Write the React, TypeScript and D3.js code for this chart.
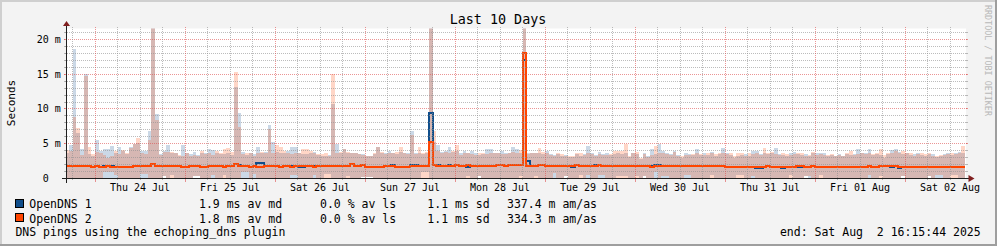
import React from 'react';
import * as d3 from 'd3';

// ---------- data ----------
const START = Date.UTC(2025, 6, 23, 16, 15, 44);
const END = Date.UTC(2025, 7, 2, 16, 15, 44);
const FIRST_BIN = Date.UTC(2025, 6, 23, 16, 0, 0);
const HOUR = 3600e3;

const seriesNames = ['OpenDNS 1', 'OpenDNS 2'];
const avMedian = [1.9, 1.8];
const avLoss = [0.0, 0.0];
const avSd = [1.1, 1.1];
const amas = [337.4, 334.3];

const dayLabels = ['Thu 24 Jul', 'Fri 25 Jul', 'Sat 26 Jul', 'Sun 27 Jul', 'Mon 28 Jul', 'Tue 29 Jul', 'Wed 30 Jul', 'Thu 31 Jul', 'Fri 01 Aug', 'Sat 02 Aug'];
const yTickValues = [0, 5, 10, 15, 20];
const yTickLabels = ['0', '5 m', '10 m', '15 m', '20 m'];

// hourly smoke maxima (ms)
const hiB = [
  3.7, 4.8, 18.6, 6.5, 4.3, 15.0, 3.5, 3.3,
  5.5, 4.0, 4.3, 4.2, 4.7, 3.6, 4.6, 4.0, 3.5, 4.5, 5.0, 5.1, 4.0, 3.9, 6.8, 22.5, 9.3, 3.5, 4.0, 4.8, 3.7, 3.7, 3.3, 4.8,
  3.6, 3.5, 3.8, 3.4, 3.6, 3.7, 4.2, 4.1, 3.6, 3.5, 3.5, 3.6, 3.4, 13.1, 9.4, 3.8, 3.4, 3.7, 3.5, 4.5, 3.6, 3.8, 7.7, 5.3,
  3.8, 3.6, 3.7, 3.9, 4.5, 4.6, 3.6, 3.5, 3.5, 3.6, 3.8, 3.4, 3.3, 3.3, 3.4, 10.7, 5.0, 3.7, 4.3, 3.7, 3.6, 3.6, 3.5, 3.5,
  3.3, 3.2, 3.5, 4.6, 3.7, 3.7, 3.9, 3.6, 3.5, 3.8, 3.6, 3.7, 6.9, 3.6, 3.7, 3.5, 3.6, 22.5, 5.3, 4.8, 3.8, 3.9, 4.55, 3.8,
  3.9, 3.7, 4.0, 3.6, 3.9, 3.6, 3.4, 3.5, 4.3, 4.3, 3.7, 3.6, 3.9, 3.6, 3.6, 4.55, 4.2, 3.6, 22.5, 3.7, 3.6, 3.6, 3.7, 3.5,
  3.9, 3.5, 3.4, 3.5, 3.3, 3.4, 3.1, 3.1, 3.5, 3.3, 3.5, 4.65, 3.6, 3.4, 3.8, 3.5, 3.7, 3.4, 3.5, 3.6, 3.5, 3.6, 3.1, 3.7,
  3.5, 2.8, 3.6, 3.2, 4.2, 3.5, 5.0, 3.9, 3.7, 3.5, 4.0, 3.4, 3.0, 3.7, 3.5, 3.4, 4.3, 3.4, 3.6, 3.4, 3.8, 3.3, 3.5, 4.45,
  3.7, 3.4, 3.0, 3.3, 3.4, 3.5, 3.3, 4.0, 4.0, 3.5, 3.6, 3.5, 3.7, 4.4, 3.5, 3.4, 3.3, 3.6, 3.8, 3.5, 3.4, 3.5, 3.3, 3.6,
  3.6, 3.6, 3.6, 3.3, 3.4, 3.2, 3.5, 3.2, 3.5, 3.4, 3.5, 4.3, 3.7, 3.7, 4.2, 3.4, 3.5, 3.4, 3.0, 3.5, 4.1, 4.2, 3.8, 3.5,
  3.6, 3.4, 3.5, 3.6, 3.4, 3.3, 3.5, 3.5, 3.1, 3.3, 3.5, 3.7, 3.4, 3.6, 3.8, 3.6,
];
const hiO = [
  4.1, 3.9, 8.9, 7.3, 3.4, 14.8, 4.5, 3.5,
  3.8, 3.7, 3.4, 3.0, 3.2, 3.9, 3.5, 4.1, 3.6, 4.4, 4.9, 5.85, 3.6, 3.5, 5.5, 22.5, 8.4, 3.4, 3.8, 3.8, 3.8, 3.6, 3.4, 3.2,
  3.7, 3.3, 3.4, 3.3, 4.0, 3.5, 3.6, 3.4, 3.9, 3.7, 4.2, 4.4, 3.8, 15.3, 7.4, 3.5, 3.6, 3.6, 3.3, 3.6, 3.8, 3.7, 7.1, 3.6,
  4.8, 4.6, 4.0, 3.6, 3.5, 3.6, 3.7, 4.2, 4.3, 4.0, 3.6, 3.5, 3.5, 3.6, 3.2, 15.0, 3.6, 3.8, 4.2, 3.8, 3.7, 3.6, 3.5, 3.4,
  3.2, 3.3, 3.6, 4.5, 3.8, 3.5, 3.6, 3.7, 3.8, 4.6, 3.6, 3.5, 6.3, 3.5, 4.55, 3.6, 3.8, 22.5, 6.9, 3.9, 3.7, 3.8, 3.7, 4.0,
  4.8, 3.4, 3.6, 3.6, 3.5, 3.4, 3.6, 3.6, 3.5, 3.6, 3.6, 3.7, 3.5, 3.5, 3.7, 3.8, 3.7, 4.1, 22.5, 3.5, 3.7, 3.6, 4.4, 3.8,
  3.6, 3.4, 3.3, 3.6, 3.5, 3.3, 3.2, 3.3, 3.6, 3.7, 3.4, 3.6, 3.5, 3.3, 3.5, 3.4, 3.4, 3.5, 3.9, 4.0, 4.0, 5.0, 3.2, 3.6,
  3.8, 2.9, 3.5, 3.1, 3.4, 4.65, 3.6, 3.7, 3.5, 3.4, 3.8, 3.3, 3.2, 3.4, 3.4, 3.5, 3.6, 3.5, 3.4, 3.6, 3.7, 3.5, 3.6, 3.6,
  3.5, 3.7, 3.2, 3.6, 3.7, 3.3, 3.7, 3.5, 3.6, 3.4, 4.45, 3.6, 3.8, 3.5, 3.4, 3.6, 3.5, 3.4, 3.5, 3.6, 3.7, 3.3, 3.4, 3.8,
  3.4, 3.5, 3.4, 3.35, 3.5, 3.3, 3.4, 3.2, 3.6, 3.9, 3.4, 3.5, 3.6, 3.5, 3.6, 3.5, 3.6, 4.3, 3.4, 3.6, 3.6, 3.9, 3.7, 4.0,
  3.7, 3.6, 3.3, 3.5, 3.6, 3.5, 3.7, 3.3, 3.2, 3.4, 3.4, 3.5, 3.6, 3.5, 3.7, 4.65,
];
// hourly smoke minima (ms)
const loB = [
  0.1, 0.1, 0.1, 0.1, 0.1, 0.1, 0.1, 0.1,
  0.1, 0.1, 0.1, 0.1, 0.1, 0.1, 0.1, 0.1, 0.1, 0.1, 0.1, 0.1, 0.1, 0.1, 0.1, 0.1, 0.1, 0.1, 0.3, 0.1, 0.5, 0.1, 0.1, 0.1,
  0.1, 0.1, 0.3, 0.3, 0.1, 0.1, 0.1, 0.1, 0.1, 0.1, 0.5, 0.1, 0.1, 0.1, 0.1, 0.1, 0.1, 0.1, 0.1, 0.1, 0.1, 0.1, 0.1, 0.1,
  0.1, 0.1, 0.1, 0.1, 0.1, 0.1, 0.1, 0.1, 0.1, 0.1, 0.1, 0.1, 0.1, 0.7, 0.7, 0.1, 0.1, 0.1, 0.1, 0.4, 0.1, 0.1, 0.1, 0.25,
  0.25, 0.25, 0.1, 0.1, 0.1, 0.1, 0.1, 0.1, 0.1, 0.1, 0.1, 0.1, 0.1, 0.1, 0.1, 1.0, 1.0, 0.1, 0.1, 0.1, 0.1, 0.1, 0.1, 0.1,
  0.1, 0.1, 0.1, 0.4, 0.1, 0.1, 0.3, 0.1, 0.1, 0.1, 0.1, 0.1, 0.1, 0.1, 0.1, 0.1, 0.1, 0.4, 0.1, 0.1, 0.1, 0.4, 0.1, 0.1,
  0.1, 0.1, 0.1, 0.1, 0.1, 0.3, 0.1, 0.1, 0.1, 0.5, 0.1, 0.1, 0.1, 0.1, 0.1, 0.1, 0.1, 0.1, 0.1, 0.3, 0.3, 0.3, 0.1, 0.1,
  0.4, 0.1, 0.3, 0.1, 0.1, 0.1, 0.1, 0.1, 0.1, 0.1, 0.1, 0.1, 0.1, 0.1, 0.1, 0.1, 0.1, 0.1, 0.1, 0.1, 0.5, 0.1, 0.1, 0.1,
  0.1, 0.1, 0.1, 0.5, 0.5, 0.1, 0.1, 0.1, 0.1, 0.1, 0.1, 0.1, 0.1, 0.1, 0.1, 0.1, 0.1, 0.5, 0.1, 0.1, 0.1, 0.3, 0.1, 0.1,
  0.1, 0.45, 0.1, 0.1, 0.1, 0.1, 0.1, 0.1, 0.1, 0.1, 0.1, 0.1, 0.1, 0.1, 0.1, 0.1, 0.1, 0.4, 0.1, 0.1, 0.1, 0.1, 0.1, 0.3,
  0.1, 0.1, 0.1, 0.1, 0.1, 0.1, 0.3, 0.1, 0.1, 0.1, 0.1, 0.1, 0.5, 0.5, 0.1, 0.1,
];
const loO = [
  0.1, 0.1, 0.1, 0.1, 0.1, 0.1, 0.1, 0.1,
  0.1, 0.1, 0.9, 0.9, 0.9, 0.45, 0.1, 0.1, 0.1, 0.1, 0.1, 0.1, 0.6, 0.6, 0.1, 0.1, 0.1, 0.1, 0.3, 0.1, 0.1, 0.1, 0.1, 0.1,
  0.1, 0.1, 0.3, 0.3, 0.1, 0.1, 0.1, 0.5, 0.1, 0.1, 0.1, 0.1, 0.1, 0.1, 0.1, 0.9, 0.9, 0.1, 0.6, 0.1, 0.1, 0.1, 0.1, 0.1,
  0.1, 0.1, 0.1, 0.1, 0.55, 0.55, 0.1, 0.1, 0.1, 0.1, 0.5, 0.1, 0.1, 0.1, 0.1, 0.1, 0.1, 0.1, 0.1, 0.1, 0.1, 0.1, 0.1, 0.25,
  0.25, 0.25, 0.1, 0.1, 0.1, 0.1, 0.1, 0.1, 0.1, 0.1, 0.1, 0.1, 0.1, 0.1, 0.1, 0.1, 0.1, 0.1, 0.1, 0.1, 0.1, 0.1, 0.1, 0.1,
  0.1, 0.1, 0.1, 0.1, 0.1, 0.1, 0.3, 0.1, 0.1, 0.1, 0.1, 0.1, 0.1, 0.1, 0.1, 0.1, 0.1, 0.1, 0.1, 0.1, 0.1, 0.1, 0.1, 0.1,
  0.1, 0.1, 0.8, 0.1, 0.1, 0.3, 0.1, 0.1, 0.1, 0.1, 0.1, 0.5, 0.1, 0.1, 0.5, 0.5, 0.1, 0.1, 0.1, 0.1, 0.1, 0.1, 0.1, 0.1,
  0.1, 0.1, 0.3, 0.1, 0.1, 1.0, 0.1, 0.3, 0.3, 0.1, 0.1, 0.1, 0.1, 0.45, 0.45, 0.1, 0.1, 0.1, 0.1, 0.1, 0.1, 0.1, 0.1, 0.1,
  0.1, 0.1, 0.1, 0.1, 0.1, 0.1, 0.1, 0.4, 0.1, 0.1, 0.1, 0.1, 0.1, 0.1, 0.1, 0.1, 0.1, 0.1, 0.1, 0.1, 0.1, 0.3, 0.4, 0.1,
  0.1, 0.1, 0.1, 0.1, 0.1, 0.1, 0.1, 0.1, 0.1, 0.1, 0.1, 0.1, 0.1, 0.1, 0.5, 0.1, 0.1, 0.1, 0.1, 0.1, 0.1, 0.1, 0.1, 0.3,
  0.1, 0.1, 0.1, 0.1, 0.1, 0.1, 0.3, 0.1, 0.55, 0.55, 0.1, 0.1, 0.1, 0.1, 0.1, 0.1,
];
// hourly medians (ms)
const medB = [
  1.75, 1.82, 1.82, 1.82, 1.82, 1.82, 1.82, 1.72,
  1.82, 1.72, 1.85, 1.82, 1.85, 1.72, 1.72, 1.72, 1.72, 1.72, 1.82, 1.82, 1.82, 1.82, 1.82, 2.15, 1.82, 1.82, 1.82, 1.82, 1.82, 1.82, 1.82, 1.72,
  1.72, 1.82, 1.82, 1.82, 1.72, 1.72, 1.82, 1.82, 1.82, 1.82, 1.72, 1.82, 1.82, 2.15, 1.9, 1.82, 1.82, 1.72, 1.82, 2.25, 2.25, 1.82, 1.82, 1.82,
  1.82, 1.62, 1.82, 1.82, 1.85, 1.82, 1.65, 1.65, 1.82, 1.82, 1.85, 1.82, 1.82, 1.82, 1.82, 1.82, 1.82, 1.82, 1.82, 1.82, 2.1, 1.82, 1.82, 1.95,
  1.72, 1.72, 1.72, 1.72, 1.72, 1.82, 1.82, 1.9, 1.72, 1.72, 1.72, 1.72, 1.9, 1.9, 1.82, 1.82, 1.82, 9.45, 1.95, 1.9, 1.82, 1.82, 1.92, 1.82,
  1.9, 1.77, 1.77, 1.72, 1.77, 1.77, 1.77, 1.77, 1.77, 1.77, 1.77, 1.9, 1.9, 1.77, 1.9, 1.9, 1.9, 1.9, 17.0, 2.55, 1.77, 1.77, 1.9, 1.9,
  1.77, 1.77, 1.77, 1.77, 1.77, 1.77, 1.77, 1.6, 1.9, 1.77, 1.77, 1.77, 1.77, 1.95, 1.93, 1.77, 1.77, 1.77, 1.77, 1.77, 1.77, 1.77, 1.77, 1.77,
  1.77, 1.77, 1.77, 1.77, 1.8, 1.9, 1.9, 1.77, 1.77, 1.77, 1.77, 1.77, 1.77, 1.77, 1.77, 1.77, 1.77, 1.77, 1.77, 1.77, 1.77, 1.77, 1.77, 1.77,
  1.68, 1.68, 1.68, 1.68, 1.68, 1.68, 1.68, 1.68, 1.55, 1.55, 1.68, 1.82, 1.68, 1.68, 1.68, 1.55, 1.68, 1.68, 1.68, 1.65, 1.65, 1.68, 1.68, 1.82,
  1.68, 1.68, 1.68, 1.68, 1.68, 1.68, 1.68, 1.68, 1.68, 1.68, 1.68, 1.68, 1.68, 1.68, 1.82, 1.68, 1.68, 1.82, 1.82, 1.82, 1.65, 1.82, 1.55, 1.68,
  1.68, 1.68, 1.68, 1.68, 1.68, 1.68, 1.68, 1.68, 1.68, 1.68, 1.68, 1.68, 1.68, 1.68, 1.68, 1.68,
];
const medO = [
  1.75, 1.82, 1.82, 1.82, 1.82, 1.82, 1.82, 1.72,
  1.82, 1.72, 1.72, 1.82, 1.72, 1.72, 1.72, 1.72, 1.72, 1.72, 1.82, 1.82, 1.82, 1.82, 1.82, 2.1, 1.82, 1.82, 1.82, 1.82, 1.82, 1.82, 1.82, 1.72,
  1.72, 1.82, 1.82, 1.82, 1.72, 1.72, 1.82, 1.82, 1.82, 1.82, 1.72, 1.82, 1.82, 2.1, 1.82, 1.82, 1.82, 1.72, 1.82, 1.72, 1.72, 1.82, 1.82, 1.82,
  1.82, 1.72, 1.82, 1.82, 1.72, 1.82, 1.82, 1.82, 1.82, 1.82, 1.72, 1.82, 1.82, 1.82, 1.82, 1.82, 1.82, 1.82, 1.82, 1.82, 2.1, 1.82, 1.82, 1.95,
  1.72, 1.72, 1.72, 1.72, 1.72, 1.82, 1.82, 1.82, 1.72, 1.72, 1.72, 1.72, 1.82, 1.82, 1.82, 1.82, 1.82, 5.3, 1.95, 1.82, 1.82, 1.82, 1.82, 1.82,
  1.9, 1.77, 1.77, 1.9, 1.77, 1.77, 1.77, 1.77, 1.77, 1.77, 1.77, 1.9, 1.9, 1.77, 1.9, 1.9, 1.9, 1.9, 18.0, 1.77, 1.77, 1.77, 1.9, 1.9,
  1.77, 1.77, 1.77, 1.77, 1.77, 1.77, 1.77, 1.77, 1.9, 1.77, 1.77, 1.77, 1.77, 1.77, 1.93, 1.77, 1.77, 1.77, 1.77, 1.77, 1.77, 1.77, 1.77, 1.77,
  1.77, 1.77, 1.77, 1.77, 1.6, 1.77, 1.77, 1.77, 1.77, 1.77, 1.77, 1.77, 1.77, 1.77, 1.77, 1.77, 1.77, 1.77, 1.77, 1.77, 1.77, 1.77, 1.77, 1.77,
  1.68, 1.68, 1.68, 1.68, 1.68, 1.68, 1.68, 1.68, 1.68, 1.68, 1.68, 1.82, 1.68, 1.68, 1.68, 1.68, 1.68, 1.68, 1.68, 1.82, 1.82, 1.68, 1.68, 1.82,
  1.68, 1.68, 1.68, 1.68, 1.68, 1.68, 1.68, 1.68, 1.68, 1.68, 1.68, 1.68, 1.68, 1.68, 1.82, 1.68, 1.68, 1.82, 1.82, 1.82, 1.82, 1.82, 1.68, 1.68,
  1.68, 1.68, 1.68, 1.68, 1.68, 1.68, 1.68, 1.68, 1.68, 1.68, 1.68, 1.68, 1.68, 1.68, 1.68, 1.68,
];

// ---------- layout / style ----------
const W = 997, H = 246;
const X0 = 66, X1 = 966, YB = 178.5, YT = 28.5;
const Y_MAX = 21.58;
const FONT = '"DejaVu Sans Mono", "Liberation Mono", monospace';
const BLUE = '#104E8B';
const ORANGE = '#FF4500';
const GRID = 'rgba(143,143,143,0.6)';
const MGRID = 'rgba(222,79,79,0.6)';
const AXIS = '#1f1f1f';
const ARROW = '#801f1f';
const CHAR = 11.5 * 0.602;

type Rec = { t: number; lo: number; hi: number; m: number };

function recs(lo: number[], hi: number[], med: number[]): Rec[] {
  const r: Rec[] = hi.map((h, i) => ({ t: FIRST_BIN + i * HOUR, lo: lo[i], hi: h, m: med[i] }));
  const last = r[r.length - 1];
  r.push({ ...last, t: last.t + HOUR });
  return r;
}

export default function App() {
  const x = d3.scaleUtc().domain([START, END]).range([X0, X1]);
  const y = d3.scaleLinear().domain([0, Y_MAX]).range([YB, YT]);
  const px = (v: number) => Math.floor(v) + 0.5;

  const area = d3.area<Rec>().x(d => x(d.t)).y0(d => y(d.lo)).y1(d => y(d.hi)).curve(d3.curveStepAfter);
  const line = d3.line<Rec>().x(d => x(d.t)).y(d => y(d.m)).curve(d3.curveStepAfter);

  const rb = recs(loB, hiB, medB);
  const ro = recs(loO, hiO, medO);

  const minorX = d3.utcHour.every(6)!.range(new Date(START), new Date(END)).filter(d => d.getUTCHours() !== 0);
  const majorX = d3.utcDay.range(new Date(START), new Date(END));
  const minorY = d3.range(1, 22).filter(v => v % 5 !== 0 && y(v) > YT);
  const majorY = yTickValues;

  const rows = [0, 1];
  const rowBase = [208, 222.5];
  const boxY = [199.5, 213.5];
  const colors = [BLUE, ORANGE];

  return (
    <svg width={W} height={H} style={{ position: 'absolute', left: 0, top: 0, display: 'block' }} fontFamily={FONT}>
      <defs>
        <clipPath id="cv">
          <rect x={X0} y={YT} width={X1 - X0} height={YB - YT} />
        </clipPath>
      </defs>
      <rect x={0} y={0} width={W} height={H} fill="#f3f3f3" />
      <rect x={0} y={0} width={W} height={2} fill="#cfcfcf" />
      <rect x={0} y={0} width={2} height={H} fill="#cfcfcf" />
      <rect x={W - 2} y={0} width={2} height={H} fill="#9e9e9e" />
      <rect x={0} y={H - 2} width={W} height={2} fill="#9e9e9e" />
      <rect x={X0} y={YT} width={X1 - X0} height={YB - YT} fill="#ffffff" />

      <text x={498} y={24} fontSize={13.4} textAnchor="middle" fill="#000">Last 10 Days</text>

      {/* smoke + medians */}
      <g clipPath="url(#cv)">
        <path d={area(rb) || ''} fill={BLUE} fillOpacity={0.22} shapeRendering="crispEdges" />
        <path d={area(ro) || ''} fill={ORANGE} fillOpacity={0.22} shapeRendering="crispEdges" />
        <path d={line(rb) || ''} fill="none" stroke={BLUE} strokeWidth={2} shapeRendering="crispEdges" />
        <path d={line(ro) || ''} fill="none" stroke={ORANGE} strokeWidth={2} shapeRendering="crispEdges" />
      </g>

      {/* grid */}
      <g strokeWidth={1} shapeRendering="crispEdges">
        {minorY.map(v => (
          <g key={'my' + v}>
            <line x1={X0 - 1} x2={X1 + 1} y1={px(y(v))} y2={px(y(v))} stroke={GRID} strokeDasharray="1,1" />
            <line x1={X0 - 2} x2={X0} y1={px(y(v))} y2={px(y(v))} stroke={GRID} />
            <line x1={X1} x2={X1 + 2} y1={px(y(v))} y2={px(y(v))} stroke={GRID} />
          </g>
        ))}
        {majorY.filter(v => v > 0).map(v => (
          <g key={'My' + v}>
            <line x1={X0 - 2} x2={X1 + 2} y1={px(y(v))} y2={px(y(v))} stroke={MGRID} strokeDasharray="1,1" />
            <line x1={X0 - 2} x2={X0} y1={px(y(v))} y2={px(y(v))} stroke={MGRID} />
            <line x1={X1} x2={X1 + 2} y1={px(y(v))} y2={px(y(v))} stroke={MGRID} />
          </g>
        ))}
        {minorX.map(d => (
          <g key={'mx' + +d}>
            <line x1={px(x(d))} x2={px(x(d))} y1={YT - 2} y2={YB + 2} stroke={GRID} strokeDasharray="1,1" />
          </g>
        ))}
        {majorX.map(d => (
          <g key={'Mx' + +d}>
            <line x1={px(x(d))} x2={px(x(d))} y1={YT - 2} y2={YB} stroke={MGRID} strokeDasharray="1,1" />
            <line x1={px(x(d))} x2={px(x(d))} y1={YB} y2={YB + 3} stroke={MGRID} />
          </g>
        ))}
      </g>

      {/* axes */}
      <line x1={X0 - 4} x2={X1 + 4} y1={YB} y2={YB} stroke={AXIS} strokeWidth={1} shapeRendering="crispEdges" />
      <line x1={X0 + 0.5} x2={X0 + 0.5} y1={YB + 4} y2={YT - 4} stroke={AXIS} strokeWidth={1} shapeRendering="crispEdges" />
      <polygon points={`${X1 + 2.5},${YB - 3.5} ${X1 + 2.5},${YB + 3.5} ${X1 + 8.5},${YB}`} fill={ARROW} />
      <polygon points={`${X0 - 3},${YT - 2.5} ${X0 + 4},${YT - 2.5} ${X0 + 0.5},${YT - 7.5}`} fill={ARROW} />

      {/* y labels */}
      {yTickValues.map((v, i) => (
        <text key={'yl' + v} x={yTickLabels[i].includes(' ') ? 60.8 : 60.8 - 2 * 10 * 0.602} y={px(y(v)) + 3.6}
          fontSize={10} textAnchor="end" fill="#000">{yTickLabels[i]}</text>
      ))}
      <text transform="translate(15,103) rotate(-90)" fontSize={11} textAnchor="middle" fill="#000">Seconds</text>

      {/* x labels */}
      {majorX.map((d, i) => (
        <text key={'xl' + i} x={x(+d + 12 * HOUR)} y={191} fontSize={10} textAnchor="middle" fill="#000">{dayLabels[i]}</text>
      ))}

      {/* watermark */}
      <text transform="translate(985.2,5) rotate(90)" fontSize={8.4} fill="#b8b8b8">RRDTOOL / TOBI OETIKER</text>

      {/* legend */}
      {rows.map(r => (
        <g key={'lg' + r} fontSize={11.5} fill="#000">
          <rect x={15.5} y={boxY[r]} width={8} height={8} fill={colors[r]} stroke="#000" strokeWidth={1} shapeRendering="crispEdges" />
          <text x={29.3} y={rowBase[r]}>{seriesNames[r]}</text>
          <text x={199} y={rowBase[r]}>{`${avMedian[r].toFixed(1)} ms av md`}</text>
          <text x={320} y={rowBase[r]}>{`${avLoss[r].toFixed(1)} % av ls`}</text>
          <text x={427.3} y={rowBase[r]}>{`${avSd[r].toFixed(1)} ms sd`}</text>
          <text x={507} y={rowBase[r]}>{`${amas[r].toFixed(1)} m am/as`}</text>
        </g>
      ))}
      <text x={15.4} y={236} fontSize={11.5} fill="#000">DNS pings using the echoping_dns plugin</text>
      <text x={980.7} y={236} fontSize={11.5} fill="#000" textAnchor="end" style={{ whiteSpace: 'pre' }}>{'end: Sat Aug  2 16:15:44 2025'}</text>
    </svg>
  );
}
